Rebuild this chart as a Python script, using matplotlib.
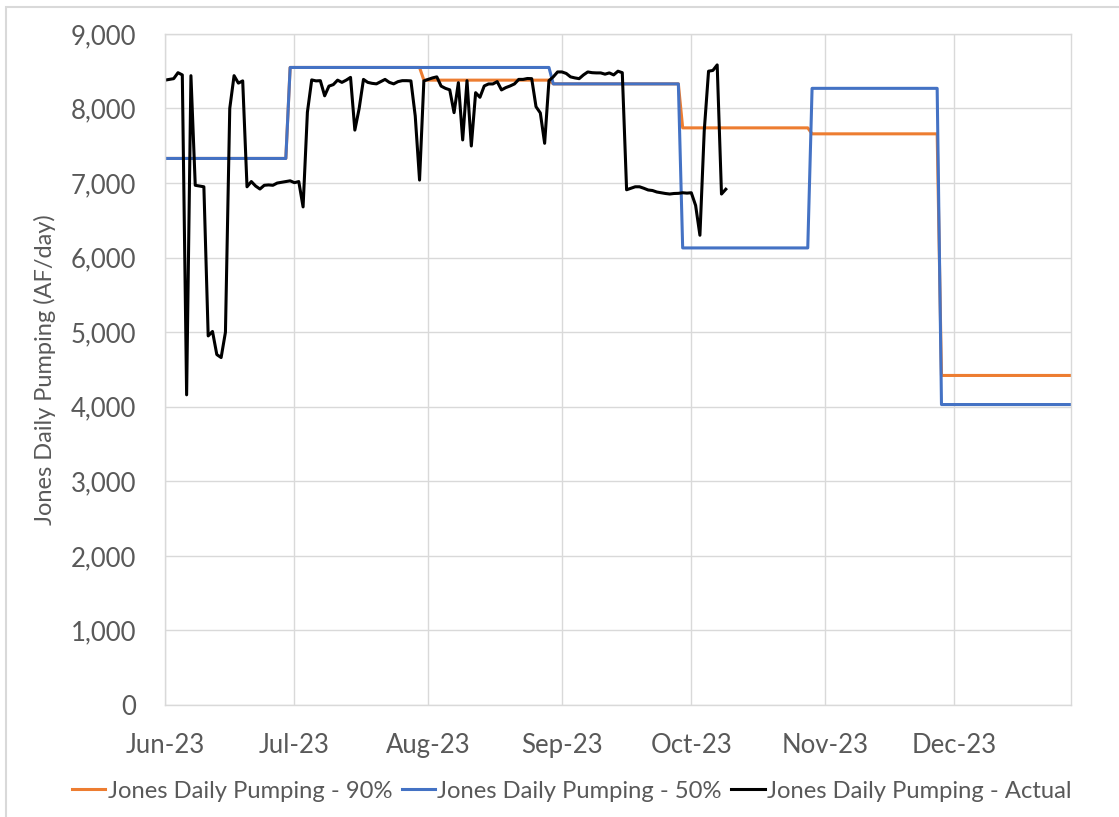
import matplotlib
matplotlib.use("Agg")
import matplotlib.pyplot as plt
import matplotlib.dates as mdates
import matplotlib.ticker as mticker
from matplotlib.patches import Rectangle
import numpy as np
import pandas as pd

plt.rcParams['font.family'] = ['Lato', 'DejaVu Sans']

# Step forecasts: date where each new level starts, and the level (AF/day)
p90_starts = ['2023-06-01', '2023-06-30', '2023-07-31', '2023-08-30', '2023-09-29', '2023-10-29', '2023-11-28']
p90_levels = [7330, 8550, 8380, 8330, 7740, 7660, 4420]

p50_starts = ['2023-06-01', '2023-06-30', '2023-08-30', '2023-09-29', '2023-10-29', '2023-11-28']
p50_levels = [7330, 8550, 8330, 6130, 8270, 4030]

# Actual daily pumping from Jun 1, 2023
actual = [8380, 8390, 8400, 8480, 8450, 4160, 8440, 6970, 6960, 6950,
          4950, 5010, 4700, 4660, 5000, 8000, 8440, 8340, 8370, 6950,
          7020, 6960, 6920, 6970, 6975, 6970, 7000, 7010, 7020, 7030,
          7005, 7020, 6680, 7950, 8383, 8370, 8373, 8170, 8300, 8320,
          8380, 8350, 8380, 8417, 7710, 8000, 8390, 8350, 8337, 8330,
          8360, 8390, 8350, 8330, 8360, 8373, 8373, 8370, 7900, 7040,
          8370, 8390, 8410, 8424, 8300, 8270, 8250, 7944, 8346, 7578,
          8373, 7497, 8212, 8150, 8302, 8329, 8329, 8360, 8249, 8280,
          8302, 8329, 8390, 8390, 8402, 8400, 8024, 7940, 7533, 8373,
          8424, 8490, 8490, 8470, 8424, 8410, 8400, 8450, 8490, 8480,
          8477, 8477, 8460, 8477, 8450, 8500, 8480, 6910, 6930, 6950,
          6950, 6930, 6907, 6900, 6880, 6870, 6860, 6853, 6860, 6862,
          6870, 6865, 6870, 6700, 6300, 7700, 8500, 8510, 8584, 6853,
          6917]

start, end = '2023-06-01', '2023-12-28'
days = pd.date_range(start, end, freq='D')

def daily(starts, levels):
    s = pd.Series(levels, index=pd.to_datetime(starts))
    return s.reindex(days).ffill()

p90 = daily(p90_starts, p90_levels)
p50 = daily(p50_starts, p50_levels)
act = pd.Series(actual, index=pd.date_range(start, periods=len(actual), freq='D'))

fig = plt.figure(figsize=(11.19, 8.17), dpi=100)
ax = fig.add_axes([0.1475, 0.137, 0.8095, 0.8215])

ax.plot(p90.index, p90.values, color='#ED7D31', lw=2.2, label='Jones Daily Pumping - 90%')
ax.plot(p50.index, p50.values, color='#4472C4', lw=2.2, label='Jones Daily Pumping - 50%')
ax.plot(act.index, act.values, color='black', lw=2.2, label='Jones Daily Pumping - Actual')

ax.set_xlim(pd.Timestamp(start), pd.Timestamp(end))
ax.set_ylim(0, 9000)
ax.yaxis.set_major_locator(mticker.MultipleLocator(1000))
ax.yaxis.set_major_formatter(mticker.StrMethodFormatter('{x:,.0f}'))
ax.xaxis.set_major_locator(mdates.MonthLocator())
ax.xaxis.set_major_formatter(mdates.DateFormatter('%b-%y'))

ax.grid(True, color='#D9D9D9', lw=1)
ax.set_axisbelow(True)
for sp in ax.spines.values():
    sp.set_color('#D9D9D9')
    sp.set_linewidth(1)
ax.tick_params(length=0, labelsize=18.5, labelcolor='#595959')
ax.tick_params(axis='y', pad=21)
ax.tick_params(axis='x', pad=20)
ax.set_ylabel('Jones Daily Pumping (AF/day)', fontsize=17, color='#595959', labelpad=10)

fig.legend(loc='center', bbox_to_anchor=(0.511, 1 - 791 / 817), ncol=3, frameon=False,
           fontsize=17.1, labelcolor='#595959', handlelength=1.4, handletextpad=0.1,
           columnspacing=0.4)

# light chart border (cut off at right/bottom)
fig.patches.append(Rectangle((6 / 1119, -0.1), 2, 1 - 7 / 817 + 0.1, transform=fig.transFigure,
                             fill=False, edgecolor='#D9D9D9', lw=1.5))

fig.savefig('out.png', dpi=100)
